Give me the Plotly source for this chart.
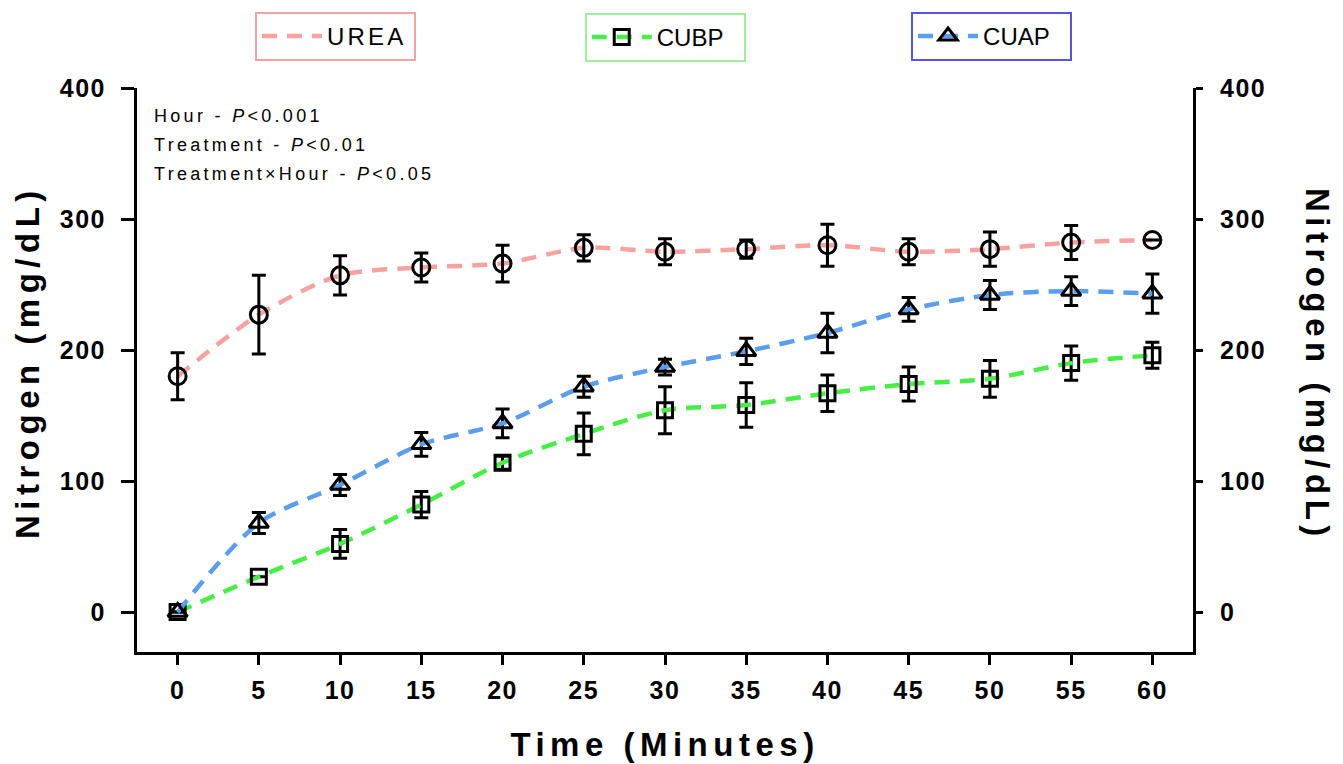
import plotly.graph_objects as go

time = [0, 5, 10, 15, 20, 25, 30, 35, 40, 45, 50, 55, 60]
urea = [180, 227, 257, 263, 266, 278, 275, 277, 280, 275, 277, 282, 284]
urea_err = [18, 30, 15, 11, 14, 10, 10, 7, 16, 10, 13, 13, 0]
cubp = [0, 27, 52, 82, 114, 136, 154, 158, 167, 174, 178, 190, 196]
cubp_err = [0, 0, 11, 10, 5, 16, 18, 17, 14, 13, 14, 13, 10]
cuap = [0, 68, 97, 128, 144, 172, 187, 199, 213, 231, 242, 245, 243]
cuap_err = [0, 8, 8, 9, 11, 8, 6, 10, 15, 9, 11, 11, 15]

x_ticks = [0, 5, 10, 15, 20, 25, 30, 35, 40, 45, 50, 55, 60]
y_ticks = [0, 100, 200, 300, 400]

FONT = "Liberation Sans, Arial, sans-serif"
C_UREA = "#F7A1A1"
C_CUBP = "#46EE46"
C_CUAP = "#5A9EEC"

fig = go.Figure()

def add_series(name, y, err, color, symbol, msize, legend, show_marker_in_legend):
    err_arr = [e if e > 0 else None for e in err]
    eb = dict(type="data", array=err_arr, visible=True, color="black", thickness=3, width=7)
    line = dict(color=color, width=4.5, dash="15px,10px", shape="spline", smoothing=0.8)
    marker = dict(symbol=symbol, size=msize, color="black", line=dict(width=3, color="black"))
    if show_marker_in_legend:
        fig.add_trace(go.Scatter(x=time, y=y, name=name, mode="lines+markers", legend=legend,
                                 line=line, marker=marker, error_y=eb, cliponaxis=False))
    else:
        fig.add_trace(go.Scatter(x=time, y=y, name=name, mode="lines", legend=legend,
                                 line=line, cliponaxis=False))
        fig.add_trace(go.Scatter(x=time, y=y, name=name, mode="markers", showlegend=False,
                                 marker=marker, error_y=eb, cliponaxis=False))

add_series("UREA", urea, urea_err, C_UREA, "circle-open", 17, "legend", False)
add_series("CUBP", cubp, cubp_err, C_CUBP, "square-open", 15, "legend2", True)
add_series("CUAP", cuap, cuap_err, C_CUAP, "triangle-up-open", 17, "legend3", True)

tickfont = dict(family=FONT, size=25, color="black", weight="bold")
axis_common = dict(showgrid=False, zeroline=False, showline=True, linecolor="black", linewidth=3,
                   ticks="outside", tickwidth=3, tickcolor="black", tickfont=tickfont, automargin=False)

legend_common = dict(xanchor="left", yanchor="top", borderwidth=2, bgcolor="white", orientation="h",
                     font=dict(family=FONT, size=24, color="black"), itemwidth=60, entrywidth=82)

fig.update_layout(
    width=1343, height=764,
    margin=dict(l=137, r=150, t=88, b=112, autoexpand=False),
    paper_bgcolor="white", plot_bgcolor="white",
    font=dict(family=FONT, color="black"),
    xaxis=dict(range=[-2.5, 62.5], tickvals=x_ticks, ticktext=[str(v) for v in x_ticks],
               ticklen=10, ticklabelstandoff=4,
               title=dict(text="Time (Minutes)", font=dict(family=FONT, size=33, color="black", weight="bold"),
                          standoff=30),
               **axis_common),
    yaxis=dict(range=[-30.5, 400], tickvals=y_ticks, ticktext=[str(v) for v in y_ticks],
               ticklen=13, ticklabelstandoff=10, **axis_common),
    yaxis2=dict(overlaying="y", side="right", matches="y", range=[-30.5, 400],
                tickvals=y_ticks, ticktext=[str(v) for v in y_ticks],
                ticklen=7, ticklabelstandoff=12, **axis_common),
    legend=dict(x=0.1117, y=1.135, bordercolor="#F4A3A3", **legend_common),
    legend2=dict(x=0.424, y=1.133, bordercolor="#9CF09C", **legend_common),
    legend3=dict(x=0.733, y=1.135, bordercolor="#5555DD", **legend_common),
    showlegend=True,
)

# invisible trace to activate the right axis
fig.add_trace(go.Scatter(x=[time[0]], y=[urea[0]], yaxis="y2", mode="markers",
                         marker=dict(opacity=0), showlegend=False, hoverinfo="skip"))

ann_font = dict(family=FONT, size=18, color="black")
notes = ["Hour - <i>P</i>&lt;0.001", "Treatment - <i>P</i>&lt;0.01", "Treatment×Hour - <i>P</i>&lt;0.05"]
for i, t in enumerate(notes):
    fig.add_annotation(text=t, xref="paper", yref="paper", x=0.014, y=(652 - 116 - 29 * i) / 564,
                       xanchor="left", yanchor="middle", align="left", showarrow=False, font=ann_font)

ytitle_font = dict(family=FONT, size=33, color="black", weight="bold")
fig.add_annotation(text="Nitrogen (mg/dL)", xref="paper", yref="paper", x=(27 - 137) / 1056, y=(652 - 362) / 564,
                   xanchor="center", yanchor="middle", textangle=-90, showarrow=False, font=ytitle_font)
fig.add_annotation(text="Nitrogen (mg/dL)", xref="paper", yref="paper", x=(1318 - 137) / 1056, y=(652 - 365) / 564,
                   xanchor="center", yanchor="middle", textangle=90, showarrow=False, font=ytitle_font)

css = (
    ".xtick text, .ytick text, .y2tick text { letter-spacing: 1.5px; }"
    " text.xtitle { letter-spacing: 5.5px; }"
    " text.legendtext { letter-spacing: 3.2px; }"
    " .annotation[data-index='0'] text, .annotation[data-index='1'] text, .annotation[data-index='2'] text { letter-spacing: 3.3px; }"
    " .annotation[data-index='3'] text, .annotation[data-index='4'] text { letter-spacing: 5.5px; }"
)
post = "var st = document.createElement('style'); st.textContent = \"" + css + "\"; document.head.appendChild(st);"

fig.write_html("out.html", post_script=post)
